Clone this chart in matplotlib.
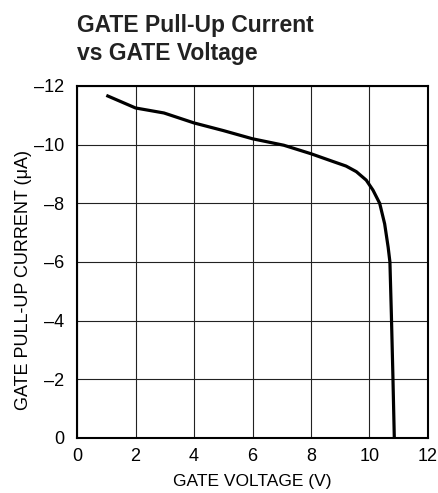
import matplotlib.pyplot as plt

# data
gate_v = [1.0, 2.0, 2.97, 4.0, 5.0, 6.0, 7.07, 8.0, 8.74, 9.2, 9.55, 9.89, 10.12, 10.35, 10.52, 10.64, 10.7, 10.75, 10.8, 10.85]
pullup_i = [-11.68, -11.25, -11.08, -10.74, -10.48, -10.2, -9.98, -9.69, -9.43, -9.27, -9.08, -8.79, -8.45, -8.0, -7.3, -6.5, -6.0, -4.2, -2.2, 0.0]

x_ticks = [0, 2, 4, 6, 8, 10, 12]
y_ticks = [0, -2, -4, -6, -8, -10, -12]

plt.rcParams['font.family'] = ['Liberation Sans', 'DejaVu Sans']

fig = plt.figure(figsize=(4.38, 4.93), dpi=100)
ax = fig.add_axes([0.176, 0.1116, 0.801, 0.714])

ax.plot(gate_v, pullup_i, color='black', lw=2.3, solid_capstyle='butt')

ax.set_xlim(0, 12)
ax.set_ylim(0, -12)
ax.set_xticks(x_ticks)
ax.set_yticks(y_ticks)
ax.set_yticklabels([str(v).replace('-', '\u2013') for v in y_ticks])
ax.tick_params(length=0, labelsize=13)
ax.tick_params(axis='x', pad=7)
ax.tick_params(axis='y', pad=9)
ax.grid(True, color='#222222', lw=0.8)
for s in ax.spines.values():
    s.set_linewidth(1.5)

ax.set_xlabel('GATE VOLTAGE (V)', fontsize=12.5, labelpad=7)
ax.set_ylabel('GATE PULL-UP CURRENT (\u03bcA)', fontsize=13)
ax.yaxis.set_label_coords(-0.128, 0.449)

fig.text(0.176, 1 - 32 / 493, 'GATE Pull-Up Current', fontsize=16.5,
         fontweight='bold', ha='left', va='baseline', color='#222222')
fig.text(0.176, 1 - 60 / 493, 'vs GATE Voltage', fontsize=16.5,
         fontweight='bold', ha='left', va='baseline', color='#222222')

fig.savefig('out.png', dpi=100)
